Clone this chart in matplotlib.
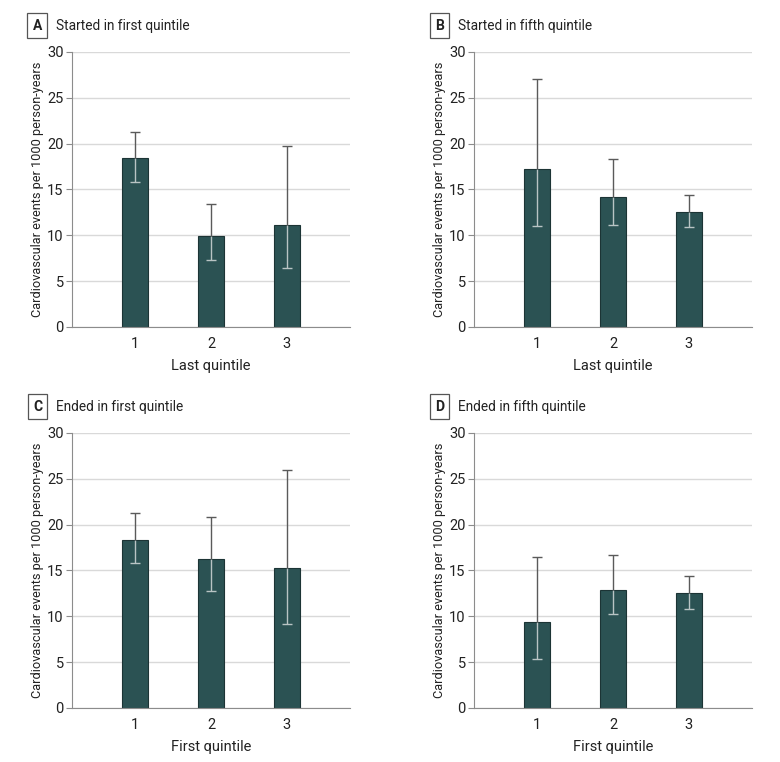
import numpy as np
import matplotlib
matplotlib.use("Agg")
import matplotlib.pyplot as plt

plt.rcParams['font.family'] = ['Roboto', 'DejaVu Sans']

# data
quintiles = [1, 2, 3]
panel_letters = ["A", "B", "C", "D"]
panel_titles = ["Started in first quintile", "Started in fifth quintile",
                "Ended in first quintile", "Ended in fifth quintile"]
x_labels = ["Last quintile", "Last quintile", "First quintile", "First quintile"]

rate_A = [18.4, 9.9, 11.1]
low_A = [15.8, 7.3, 6.4]
high_A = [21.3, 13.4, 19.7]

rate_B = [17.2, 14.2, 12.5]
low_B = [11.0, 11.1, 10.9]
high_B = [27.0, 18.3, 14.4]

rate_C = [18.3, 16.2, 15.3]
low_C = [15.8, 12.8, 9.2]
high_C = [21.3, 20.8, 26.0]

rate_D = [9.4, 12.9, 12.5]
low_D = [5.3, 10.2, 10.8]
high_D = [16.5, 16.7, 14.4]

rates = [rate_A, rate_B, rate_C, rate_D]
lows = [low_A, low_B, low_C, low_D]
highs = [high_A, high_B, high_C, high_D]

BAR = "#2b5253"
EDGE = "#1c3435"
GRID = "#d9d9d9"
SPINE = "#8c8c8c"
ERR_OUT = "#5a5a5a"
ERR_IN = "#b9c4c4"
TXT = "#222222"

fig = plt.figure(figsize=(7.8, 7.62), dpi=100)
# axes boxes in figure fractions
lefts = [0.0923, 0.6077, 0.0923, 0.6077]
bottoms = [0.5709, 0.5709, 0.0709, 0.0709]
w, h = 0.3564, 0.3609

for i in range(4):
    ax = fig.add_axes([lefts[i], bottoms[i], w, h])
    x = np.array(quintiles)
    r = np.array(rates[i])
    lo = np.array(lows[i])
    hi = np.array(highs[i])

    ax.bar(x, r, width=0.35, color=BAR, edgecolor=EDGE, linewidth=0.8, zorder=2)

    # error bar: light part inside the bar, dark part above it
    ax.vlines(x, lo, r, color=ERR_IN, lw=1.0, zorder=3)
    ax.vlines(x, r, hi, color=ERR_OUT, lw=1.0, zorder=3)
    ax.hlines(lo, x - 0.07, x + 0.07, color=ERR_IN, lw=1.0, zorder=3)
    ax.hlines(hi, x - 0.07, x + 0.07, color=ERR_OUT, lw=1.0, zorder=3)

    ax.set_xlim(0.17, 3.83)
    ax.set_ylim(0, 30)
    ax.set_yticks(range(0, 31, 5))
    ax.set_xticks(quintiles)
    ax.yaxis.grid(True, color=GRID, lw=1.0, zorder=0)
    ax.set_axisbelow(True)
    for s in ["top", "right"]:
        ax.spines[s].set_visible(False)
    ax.spines["left"].set_color(SPINE)
    ax.spines["bottom"].set_color(SPINE)
    ax.tick_params(axis="y", length=4, color=SPINE, labelsize=10.5, pad=2, labelcolor=TXT)
    ax.tick_params(axis="x", length=0, labelsize=10.5, pad=7, labelcolor=TXT)
    ax.set_xlabel(x_labels[i], fontsize=10.5, labelpad=6, color=TXT)
    ax.set_ylabel("Cardiovascular events per 1000 person-years", fontsize=9.2,
                  labelpad=2, color=TXT)

    # panel tag and title
    fig.text(lefts[i] - 0.0443, bottoms[i] + h + 0.0345, panel_letters[i],
             fontsize=10, fontweight="bold", ha="center", va="center", color=TXT,
             bbox=dict(boxstyle="square,pad=0.38", fc="white", ec="#555555", lw=0.9))
    fig.text(lefts[i] - 0.0205, bottoms[i] + h + 0.0345, panel_titles[i],
             fontsize=9.8, ha="left", va="center", color=TXT)

fig.savefig("out.png", dpi=100, facecolor="white")
